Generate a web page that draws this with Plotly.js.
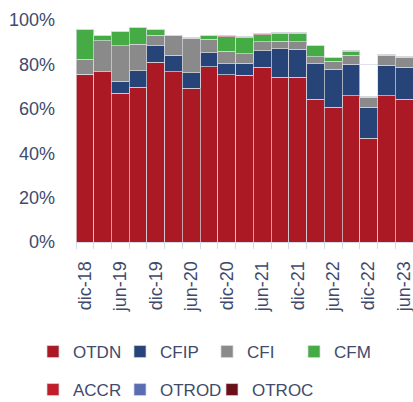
<!DOCTYPE html>
<html><head><meta charset="utf-8">
<script src="https://cdn.plot.ly/plotly-3.0.1.min.js"></script>
<style>html,body{margin:0;padding:0;background:#fff}#c{width:413px;height:402px}</style>
</head><body><div id="c"></div>
<script>
const categories = ['dic-18','mar-19','jun-19','sep-19','dic-19','mar-20','jun-20','sep-20','dic-20','mar-21','jun-21','sep-21','dic-21','mar-22','jun-22','sep-22','dic-22','mar-23','jun-23'];
const tickLabels = ['dic-18','','jun-19','','dic-19','','jun-20','','dic-20','','jun-21','','dic-21','','jun-22','','dic-22','','jun-23'];
const yTickVals = [0,20,40,60,80,100];
const yTickLabels = ['0%','20%','40%','60%','80%','100%'];
const OTDN  = [75.5,76.7,67.0,69.7,80.9,76.7,69.2,79.0,75.4,75.1,78.7,74.2,74.2,64.3,60.7,65.8,46.7,65.8,64.3];
const CFIP  = [0,0,5.4,7.5,7.4,7.5,7.1,6.3,4.8,5.4,7.5,12.9,12.7,15.9,17.1,14.2,14.0,13.9,14.4];
const CFI   = [6.8,14.0,16.0,11.8,4.8,8.6,15.4,6.0,5.7,4.2,4.0,3.3,3.3,3.3,3.7,4.1,4.5,4.5,4.5];
const CFM   = [13.5,2.5,6.3,7.7,2.7,0,0,1.5,6.6,7.5,3.2,3.6,3.8,4.8,1.4,1.8,0,0,0];
const ACCR  = [0,0,0,0,0,0.4,0.4,0.4,0.4,0.4,0.4,0.4,0.4,0.3,0.3,0.4,0.3,0.3,0.4];
const OTROD = [0,0,0,0,0,0,0,0,0,0,0,0,0,0,0,0,0,0,0];
const OTROC = [0,0,0,0,0,0,0,0,0,0,0,0,0,0,0,0,0,0,0];

const seriesNames = ['OTDN','CFIP','CFI','CFM','ACCR','OTROD','OTROC'];
const seriesData = [OTDN,CFIP,CFI,CFM,ACCR,OTROD,OTROC];
const colors = ['#AB1A24','#264478','#8A8A8A','#45AB45','#C01F2A','#5A6DB0','#6B1018'];

const textColor = '#404a6b';
const FONT = 'Liberation Sans, Arial, sans-serif';
const legendIds = ['legend','legend2','legend3','legend4','legend5','legend6','legend7'];
// legend item placement (pixels in the page)
const legendX = [33,120,207,294,33,120,212];
const legendY = [352,352,352,352,390,390,390];

const traces = seriesNames.map((n,i)=>({
  type:'bar', name:n, x:categories, y:seriesData[i],
  marker:{color:colors[i], line:{color:'rgba(215,215,222,0.9)', width:0.8}},
  legend: legendIds[i], hoverinfo:'skip'
}));

const layout = {
  width:413, height:402,
  margin:{l:76, r:0, t:20, b:160},
  barmode:'stack', bargap:0,
  paper_bgcolor:'#fff', plot_bgcolor:'#fff',
  font:{family:FONT, size:18, color:textColor},
  xaxis:{type:'category', tickvals:categories, ticktext:tickLabels, tickangle:-90,
    tickson:'boundaries', ticks:'outside', ticklen:6, tickcolor:'#d5d9e8', tickwidth:1,
    showline:true, linecolor:'#d5d9e8', linewidth:1, showgrid:false,
    tickfont:{family:FONT, size:18, color:textColor}, ticklabelstandoff:11},
  yaxis:{range:[0,100], tickmode:'array', tickvals:yTickVals, ticktext:yTickLabels, showgrid:true,
    gridcolor:'#dfe2ee', gridwidth:1, zeroline:false, showline:false,
    tickfont:{family:FONT, size:18, color:textColor}, ticklabelstandoff:20},
  showlegend:true
};
legendIds.forEach((id,i)=>{
  layout[id] = {orientation:'h', xref:'container', yref:'container', xanchor:'left', yanchor:'middle',
    x:legendX[i]/413, y:1-legendY[i]/402, bgcolor:'rgba(0,0,0,0)',
    font:{family:FONT, size:17, color:textColor}};
});
Plotly.newPlot('c', traces, layout, {displayModeBar:false, staticPlot:true});
</script></body></html>
